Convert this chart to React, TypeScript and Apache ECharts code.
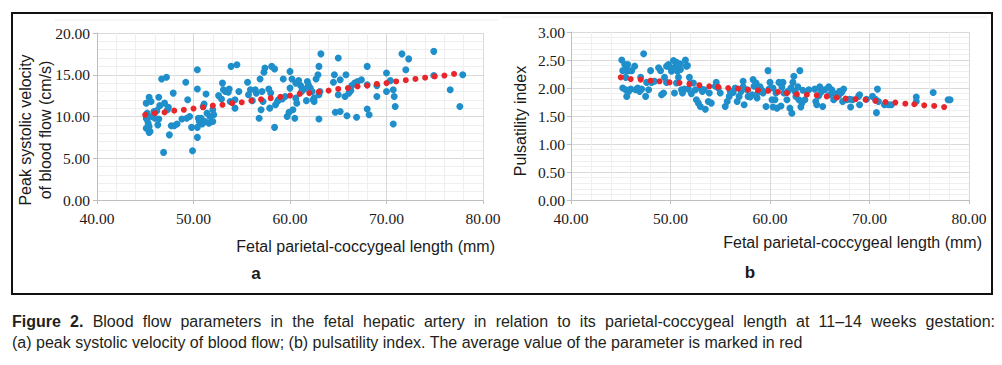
import React, { useEffect, useRef } from "react";
import * as echarts from "echarts";

// ---------- data ----------
const X_TICKS = [40, 50, 60, 70, 80];
const LEFT_Y_TICKS = [0, 5, 10, 15, 20];
const RIGHT_Y_TICKS = [0, 0.5, 1, 1.5, 2, 2.5, 3];

// (a) peak systolic velocity of blood flow, cm/s
const LEFT_POINTS: [number, number][] = [
  [45.4, 12.3], [45.1, 11.6], [45.2, 10.4], [45.1, 9.8], [45.3, 9.2], [45.1, 8.6], [45.4, 8.1], [45.5, 8.2], [45.2, 9.6], [45.4, 8.8], [45.7, 10.0], [45.6, 11.8],
  [45.9, 10.6], [46.0, 9.8], [46.2, 10.7], [46.4, 12.3], [46.5, 11.3], [46.3, 9.0], [46.4, 9.7],
  [46.7, 14.5], [47.2, 14.7], [46.9, 5.7], [47.0, 11.6], [47.3, 10.8], [47.4, 11.1],
  [47.5, 7.8], [47.7, 8.9], [47.9, 12.8], [48.0, 8.9], [48.3, 9.1],
  [48.8, 9.7], [49.2, 14.1], [49.3, 9.8], [49.4, 12.0], [49.6, 10.0], [49.8, 8.7], [49.9, 5.9],
  [50.4, 13.3], [50.4, 15.6], [50.4, 7.5], [50.4, 8.7], [50.5, 9.8], [50.6, 9.4], [50.8, 9.8], [50.9, 9.1], [51.0, 11.2], [51.1, 11.5],
  [51.2, 9.4], [51.3, 12.7], [51.4, 10.4], [51.6, 9.2], [51.7, 10.0], [52.0, 9.4], [52.1, 10.2], [52.0, 10.8],
  [52.6, 12.5], [52.9, 12.1], [53.0, 14.0], [53.1, 13.2], [53.3, 13.0], [53.6, 12.9], [53.7, 13.3], [53.9, 16.0], [54.5, 16.2], [53.8, 11.8], [54.3, 11.0], [54.7, 13.0], [54.3, 12.0],
  [55.6, 14.1], [55.7, 12.6], [55.9, 13.2], [56.1, 11.9], [56.4, 13.2], [56.5, 12.8], [56.8, 9.8], [56.9, 14.5], [57.0, 10.8], [57.1, 13.0], [57.2, 11.8], [57.3, 15.3], [57.4, 15.8],
  [57.8, 13.3], [57.9, 11.0], [58.0, 12.8], [58.1, 16.0], [58.4, 15.7], [58.4, 8.7], [58.5, 11.4], [58.7, 11.8], [58.8, 12.0],
  [59.2, 12.1], [59.3, 14.5], [59.5, 12.4], [59.7, 10.0], [59.9, 10.5], [60.0, 15.4], [60.0, 13.4], [60.2, 14.5], [60.3, 10.8], [60.5, 9.8], [60.6, 12.2], [60.6, 14.0],
  [60.7, 11.6], [60.9, 14.3], [61.1, 13.7], [61.2, 13.0], [61.5, 13.3], [61.7, 11.9], [61.8, 14.2], [61.9, 13.8], [62.1, 13.4], [62.3, 13.0], [62.4, 12.0], [62.5, 11.8], [62.5, 12.2],
  [62.7, 14.5], [62.9, 15.0], [63.0, 16.0], [63.0, 9.7], [63.2, 17.5], [63.0, 12.6], [63.1, 13.0],
  [64.5, 14.1], [64.6, 15.0], [65.0, 17.0], [64.7, 10.5], [65.2, 10.6], [65.0, 12.6], [65.2, 14.4], [65.7, 12.4], [65.8, 15.0], [65.9, 10.1], [66.1, 12.8], [66.3, 13.1], [66.4, 13.7],
  [66.7, 14.0], [66.9, 9.9], [67.0, 14.2], [67.4, 14.4], [68.0, 16.0], [68.0, 10.9], [68.2, 10.2], [68.0, 13.8], [69.0, 13.7], [69.0, 12.4],
  [70.0, 15.2], [70.0, 13.0], [70.4, 14.3], [70.7, 13.2], [70.8, 12.4], [70.7, 9.1], [70.9, 11.2],
  [71.6, 17.5], [72.0, 15.6], [72.3, 16.9],
  [74.9, 17.8], [74.9, 14.9], [76.6, 13.2], [77.6, 11.2], [77.9, 15.0],
];
const LEFT_MEAN_X = [45, 46, 47, 48, 49, 50, 51, 52, 53, 54, 55, 56, 57, 58, 59, 60, 61, 62, 63, 64, 65, 66, 67, 68, 69, 70, 71, 72, 73, 74, 75, 76, 77];
const LEFT_MEAN_Y = [10.2, 10.4, 10.5, 10.7, 10.8, 10.95, 11.1, 11.3, 11.4, 11.6, 11.7, 11.9, 12.05, 12.2, 12.35, 12.5, 12.7, 12.8, 12.95, 13.1, 13.3, 13.4, 13.6, 13.7, 13.9, 14.0, 14.2, 14.35, 14.5, 14.65, 14.8, 14.9, 15.1];

// (b) pulsatility index
const RIGHT_POINTS: [number, number][] = [
  [45.1, 2.5], [45.2, 2.31], [45.4, 2.42], [45.6, 2.31], [45.7, 2.42], [45.8, 2.31], [45.5, 2.19], [45.2, 2.0], [45.5, 1.97], [45.6, 1.85], [46.0, 1.98], [45.8, 1.94],
  [46.1, 2.31], [46.4, 2.39], [46.5, 1.97], [46.7, 2.0], [46.9, 1.94], [47.0, 2.19], [47.1, 1.98], [47.3, 2.61], [47.5, 1.85], [47.6, 2.1], [47.8, 1.97],
  [48.0, 2.31], [48.1, 2.1], [48.4, 2.12], [48.8, 2.36], [49.0, 2.31], [49.1, 1.88], [49.3, 1.91], [49.4, 2.19], [49.6, 2.1], [49.6, 2.39],
  [49.8, 2.42], [50.0, 2.36], [50.1, 2.3], [50.3, 2.49], [50.4, 1.91], [50.5, 2.39], [50.6, 2.46], [50.6, 2.09], [50.7, 2.3], [50.8, 2.19], [51.0, 2.43], [51.0, 2.33], [51.1, 1.97], [51.2, 1.91], [51.4, 1.98], [51.5, 2.5], [51.6, 2.39], [51.7, 2.4],
  [51.8, 1.98], [51.9, 2.19], [52.0, 2.09], [52.1, 1.9], [52.3, 2.09], [52.5, 1.97], [52.6, 1.79], [52.8, 1.73], [53.0, 1.67], [53.1, 1.98], [53.2, 1.94], [53.4, 1.97], [53.5, 1.62], [53.8, 1.76], [53.9, 1.91], [54.1, 1.73],
  [54.5, 2.03], [54.6, 2.1], [54.8, 2.0], [55.0, 1.91], [55.5, 1.67], [55.7, 1.76], [55.9, 1.85], [56.0, 1.94], [56.3, 1.92], [56.5, 2.0],
  [56.7, 1.76], [56.9, 1.85], [57.1, 1.94], [57.3, 2.12], [57.3, 2.02], [57.4, 1.7], [57.7, 1.97], [57.8, 1.85], [58.0, 1.84], [58.2, 1.88], [58.3, 2.15], [58.4, 2.03], [58.6, 2.09],
  [58.7, 1.82], [58.8, 1.92], [59.0, 2.02], [59.2, 1.96], [59.3, 1.91], [59.6, 1.67], [59.8, 2.31], [59.9, 1.98], [60.0, 2.1], [60.2, 1.79], [60.3, 1.66], [60.3, 2.0], [60.5, 1.79], [60.6, 1.91],
  [60.7, 1.64], [60.9, 2.1], [61.1, 1.68], [61.2, 2.02], [61.3, 2.1], [61.4, 1.91], [61.7, 1.79], [61.8, 1.94], [62.0, 1.64], [62.1, 2.0], [62.2, 1.55], [62.3, 2.1], [62.4, 2.21],
  [62.5, 1.94], [62.6, 1.85], [62.8, 2.02], [62.9, 1.79], [63.0, 2.31], [63.1, 1.66], [63.2, 1.73], [63.3, 1.96], [63.5, 1.79],
  [63.9, 1.97], [64.5, 1.98], [64.6, 1.76], [64.7, 1.7], [64.9, 1.86], [65.0, 2.02], [65.1, 1.92], [65.3, 1.67], [65.5, 1.97], [65.9, 2.02], [66.0, 1.88], [66.2, 1.97], [66.4, 1.79], [66.5, 1.9],
  [66.7, 1.84], [66.9, 1.86], [67.0, 1.94], [67.2, 1.92], [67.3, 1.76], [67.4, 1.98], [67.7, 1.79], [68.0, 1.8], [68.1, 1.66], [68.3, 1.79],
  [68.9, 1.85], [69.0, 1.88], [69.0, 1.7], [69.7, 1.8], [70.3, 1.85], [70.6, 1.8], [70.7, 1.56], [70.8, 1.98], [70.9, 1.76],
  [71.5, 1.7], [71.9, 1.7], [72.2, 1.7], [74.7, 1.84], [74.7, 1.76], [76.4, 1.92], [77.9, 1.79], [78.1, 1.79],
];
const RIGHT_MEAN_X = [45.0, 46.0, 47.0, 48.0, 48.9, 49.9, 50.9, 51.9, 52.9, 53.9, 54.8, 55.8, 56.8, 57.8, 58.8, 59.8, 60.8, 61.7, 62.7, 63.7, 64.7, 65.7, 66.7, 67.6, 68.6, 69.6, 70.6, 71.6, 72.6, 73.6, 74.5, 75.5, 76.5, 77.5];
const RIGHT_MEAN_Y = [2.19, 2.16, 2.15, 2.13, 2.12, 2.1, 2.09, 2.07, 2.05, 2.03, 2.02, 2.0, 1.99, 1.97, 1.96, 1.95, 1.93, 1.91, 1.89, 1.88, 1.87, 1.85, 1.83, 1.81, 1.8, 1.79, 1.77, 1.75, 1.74, 1.72, 1.71, 1.69, 1.68, 1.66];

// ---------- texts ----------
const LEFT_Y_TITLE = "Peak systolic velocity\nof blood flow (cm/s)";
const RIGHT_Y_TITLE = "Pulsatility index";
const X_TITLE = "Fetal parietal-coccygeal length (mm)";
const CAPTION_LINE1 = ["Figure", "2.", "Blood", "flow", "parameters", "in", "the", "fetal", "hepatic", "artery", "in", "relation", "to", "its", "parietal-coccygeal", "length", "at", "11–14", "weeks", "gestation:"];
const CAPTION_BOLD_WORDS = 2;
const CAPTION_LINE2 = "(a) peak systolic velocity of blood flow; (b) pulsatility index. The average value of the parameter is marked in red";

// ---------- styles ----------
const SERIF = "'Liberation Serif', 'Times New Roman', Times, serif";
const SANS = "'Liberation Sans', Arial, Helvetica, sans-serif";
const BLUE = "#1f8fcb";
const RED = "#e8262b";
const TEXT = "#1a1a1a";
const AXIS = "#bfbfbf";
const MAJOR = "#d9d9d9";
const MINOR = "#efefef";
const TICK_SIZE = 15.5;
const CAP_SIZE = 16;
const CAP_LEFT = 12;
const CAP_RIGHT = 995;

function xAxis(gridIndex: number) {
  return {
    type: "value",
    gridIndex,
    min: X_TICKS[0],
    max: X_TICKS[X_TICKS.length - 1],
    interval: X_TICKS[1] - X_TICKS[0],
    axisLine: { show: true, onZero: false, lineStyle: { color: AXIS, width: 1 } },
    axisTick: { show: true, length: 4, lineStyle: { color: AXIS } },
    axisLabel: { show: false },
    splitLine: { show: true, lineStyle: { color: MAJOR, width: 1 } },
    minorTick: { show: false, splitNumber: 5 },
    minorSplitLine: { show: true, lineStyle: { color: MINOR, width: 1 } },
  };
}

function yAxis(gridIndex: number, ticks: number[]) {
  return {
    type: "value",
    gridIndex,
    min: ticks[0],
    max: ticks[ticks.length - 1],
    interval: ticks[1] - ticks[0],
    axisLine: { show: true, lineStyle: { color: AXIS, width: 1 } },
    axisTick: { show: true, length: 4, lineStyle: { color: AXIS } },
    axisLabel: { show: false },
    splitLine: { show: true, lineStyle: { color: MAJOR, width: 1 } },
    minorTick: { show: false, splitNumber: 5 },
    minorSplitLine: { show: true, lineStyle: { color: MINOR, width: 1 } },
  };
}

function tickText(text: string, x: number, y: number, align: string) {
  return {
    type: "text",
    x,
    y,
    silent: true,
    style: {
      text,
      fontFamily: SERIF,
      fontSize: TICK_SIZE,
      fill: TEXT,
      align,
      verticalAlign: "middle",
    },
  };
}

export default function App() {
  const ref = useRef<HTMLDivElement>(null);

  useEffect(() => {
    document.body.style.margin = "0";
    const el = ref.current;
    if (!el) return;
    const chart = echarts.init(el, undefined, { renderer: "svg" });

    const option: any = {
      animation: false,
      backgroundColor: "#ffffff",
      grid: [
        { left: 97, top: 33, width: 386, height: 167, show: false },
        { left: 571, top: 32, width: 398, height: 168, show: false },
      ],
      xAxis: [xAxis(0), xAxis(1)],
      yAxis: [yAxis(0, LEFT_Y_TICKS), yAxis(1, RIGHT_Y_TICKS)],
      series: [
        { type: "scatter", xAxisIndex: 0, yAxisIndex: 0, data: LEFT_POINTS, symbolSize: 7, itemStyle: { color: BLUE, opacity: 1 }, z: 2 },
        {
          type: "scatter",
          xAxisIndex: 0,
          yAxisIndex: 0,
          data: LEFT_MEAN_X.map((x, i) => [x, LEFT_MEAN_Y[i]]),
          symbolSize: 6,
          itemStyle: { color: RED, opacity: 1 },
          z: 3,
        },
        { type: "scatter", xAxisIndex: 1, yAxisIndex: 1, data: RIGHT_POINTS, symbolSize: 7, itemStyle: { color: BLUE, opacity: 1 }, z: 2 },
        {
          type: "scatter",
          xAxisIndex: 1,
          yAxisIndex: 1,
          data: RIGHT_MEAN_X.map((x, i) => [x, RIGHT_MEAN_Y[i]]),
          symbolSize: 6,
          itemStyle: { color: RED, opacity: 1 },
          z: 3,
        },
      ],
    };
    chart.setOption(option);

    // tick labels, positioned through the axes' own scales
    const labels: any[] = [];
    const gridBottom = [200, 200];
    [0, 1].forEach((gi) => {
      X_TICKS.forEach((v) => {
        const px = chart.convertToPixel({ xAxisIndex: gi } as any, v) as unknown as number;
        labels.push(tickText(v.toFixed(2), px, gridBottom[gi] + 18, "center"));
      });
    });
    const yTicks = [LEFT_Y_TICKS, RIGHT_Y_TICKS];
    const yLabelRight = [90, 565];
    [0, 1].forEach((gi) => {
      yTicks[gi].forEach((v) => {
        const py = chart.convertToPixel({ yAxisIndex: gi } as any, v) as unknown as number;
        labels.push(tickText(v.toFixed(2), yLabelRight[gi], py, "right"));
      });
    });

    // justified first caption line
    const ctx = document.createElement("canvas").getContext("2d");
    const widths = CAPTION_LINE1.map((w, i) => {
      if (!ctx) return w.length * 7;
      ctx.font = `${i < CAPTION_BOLD_WORDS ? "bold " : ""}${CAP_SIZE}px ${SANS}`;
      return ctx.measureText(w).width;
    });
    const total = widths.reduce((a, b) => a + b, 0);
    const gap = (CAP_RIGHT - CAP_LEFT - total) / (CAPTION_LINE1.length - 1);
    let cx = CAP_LEFT;
    const captionEls: any[] = CAPTION_LINE1.map((w, i) => {
      const e = {
        type: "text",
        x: cx,
        y: 321,
        style: {
          text: w,
          fontFamily: SANS,
          fontSize: CAP_SIZE,
          fontWeight: i < CAPTION_BOLD_WORDS ? "bold" : "normal",
          fill: "#231f20",
          align: "left",
          verticalAlign: "middle",
        },
      };
      cx += widths[i] + gap;
      return e;
    });
    captionEls.push({
      type: "text",
      x: CAP_LEFT,
      y: 342,
      style: {
        text: CAPTION_LINE2,
        fontFamily: SANS,
        fontSize: CAP_SIZE,
        fill: "#231f20",
        align: "left",
        verticalAlign: "middle",
      },
    });

    chart.setOption({
      graphic: [
        {
          type: "rect",
          shape: { x: 12, y: 13, width: 980, height: 281 },
          style: { fill: "none", stroke: "#111111", lineWidth: 2 },
          silent: true,
        },
        { type: "line", shape: { x1: 55, y1: 20, x2: 498, y2: 20 }, style: { stroke: "#eeeeee", lineWidth: 1 }, silent: true },
        { type: "line", shape: { x1: 502, y1: 17, x2: 987, y2: 17 }, style: { stroke: "#eeeeee", lineWidth: 1 }, silent: true },
        {
          type: "text",
          x: 35,
          y: 130,
          rotation: Math.PI / 2,
          style: { text: LEFT_Y_TITLE, fontFamily: SANS, fontSize: 16, lineHeight: 20, fill: TEXT, align: "center", verticalAlign: "middle" },
        },
        {
          type: "text",
          x: 520,
          y: 121,
          rotation: Math.PI / 2,
          style: { text: RIGHT_Y_TITLE, fontFamily: SANS, fontSize: 16, fill: TEXT, align: "center", verticalAlign: "middle" },
        },
        { type: "text", x: 495, y: 246, style: { text: X_TITLE, fontFamily: SANS, fontSize: 16, fill: TEXT, align: "right", verticalAlign: "middle" } },
        { type: "text", x: 982, y: 242, style: { text: X_TITLE, fontFamily: SANS, fontSize: 16, fill: TEXT, align: "right", verticalAlign: "middle" } },
        { type: "text", x: 256, y: 273, style: { text: "a", fontFamily: SANS, fontSize: 17, fontWeight: "bold", fill: TEXT, align: "center", verticalAlign: "middle" } },
        { type: "text", x: 750, y: 272, style: { text: "b", fontFamily: SANS, fontSize: 17, fontWeight: "bold", fill: TEXT, align: "center", verticalAlign: "middle" } },
        ...labels,
        ...captionEls,
      ],
    });

    return () => {
      chart.dispose();
    };
  }, []);

  return <div ref={ref} style={{ width: 1002, height: 365 }} />;
}
